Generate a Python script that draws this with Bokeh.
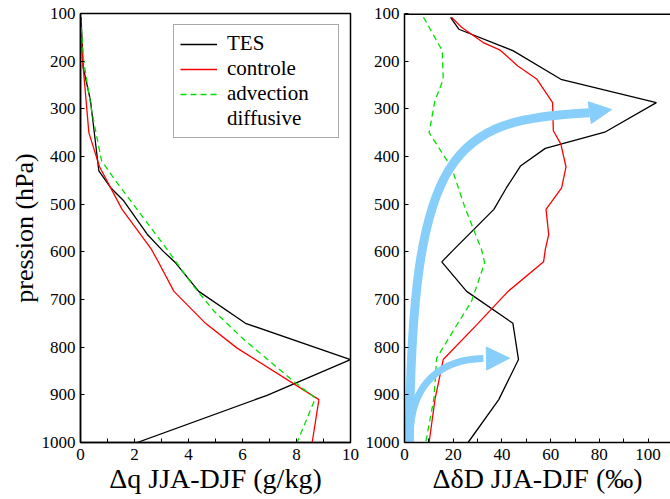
from bokeh.plotting import figure
from bokeh.models import Range1d, FixedTicker, Legend, LegendItem, Span, Arrow, NormalHead, Title
from bokeh.layouts import row
from bokeh.embed import file_html
from bokeh.resources import INLINE

# ---------------- data ----------------
# left panel: specific humidity difference JJA-DJF (g/kg)
p_tes_q = [108, 213, 283, 430, 465, 493, 563, 598, 623, 683, 750, 826, 901, 1000]
tes_q = [0.02, 0.1, 0.37, 0.68, 1.11, 1.6, 2.47, 3.05, 3.52, 4.38, 6.11, 10.0, 6.91, 2.1]

p_ctl_q = [108, 200, 350, 421, 511, 595, 623, 683, 750, 802, 910, 1000]
ctl_q = [0.0, 0.08, 0.31, 0.7, 1.54, 2.63, 2.9, 3.46, 4.63, 5.8, 8.83, 8.58]

p_adv_q = [108, 200, 300, 409, 451, 592, 668, 724, 784, 872, 907, 1000]
adv_q = [0.0, 0.12, 0.4, 0.78, 1.3, 3.17, 4.13, 4.94, 6.05, 7.9, 8.7, 8.02]

# right panel: deltaD difference JJA-DJF (permil)
p_tes_d = [108, 133, 178, 238, 287, 349, 383, 420, 466, 511, 598, 621, 683, 750, 826, 910, 1000]
tes_d = [18.9, 22.3, 44.5, 64.2, 103.4, 82.2, 57.8, 47.6, 41.8, 36.7, 19.7, 15.3, 25.5, 44.5, 46.8, 38.7, 26.1]

p_ctl_d = [108, 129, 161, 177, 210, 238, 287, 346, 374, 422, 466, 511, 564, 595, 621, 683, 750, 826, 910, 1000]
ctl_d = [19.3, 23.4, 32.3, 39.3, 46.5, 54.4, 60.8, 61.1, 64.2, 66.3, 64.5, 58.1, 59.2, 57.8, 57.1, 42.5, 30.2, 15.9, 12.5, 10.1]

p_adv_d = [108, 178, 238, 283, 350, 423, 507, 595, 623, 704, 760, 823, 907, 1000]
adv_d = [7.8, 15.5, 15.9, 12.5, 10.1, 19.3, 24.8, 31.6, 32.9, 27.5, 20.7, 13.2, 12.1, 8.7]

# annotation arrows (bezier control points, data units: permil, hPa)
big_arrow = dict(x0=2.0, y0=1000, cx0=3.0, cy0=380, cx1=20.0, cy1=322, x1=76.0, y1=308, tip_x=85.0, tip_y=301.5)
small_arrow = dict(x0=2.5, y0=965, cx0=4.0, cy0=880, cx1=14.0, cy1=826, x1=32.4, y1=824.0, tip_x=43.1, tip_y=823.0)

pressure_ticks = [100, 200, 300, 400, 500, 600, 700, 800, 900, 1000]
q_ticks = [0, 2, 4, 6, 8, 10]
q_minor = [1, 3, 5, 7, 9]
d_ticks = [0, 20, 40, 60, 80, 100]
d_minor = [10, 30, 50, 70, 90]

labels = ["TES", "controle", "advection", "diffusive"]
xlab_q = "\u0394q JJA-DJF (g/kg)"
xlab_d = "\u0394\u03b4D JJA-DJF (\u2030)"
ylab = "pression (hPa)"

FONT = "serif"
BLUE = "#87CEFA"
GREEN = "#00e000"


def style(p, xticks, xminor):
    p.xaxis.ticker = FixedTicker(ticks=xticks, minor_ticks=xminor)
    p.yaxis.ticker = FixedTicker(ticks=pressure_ticks)
    for ax in (p.xaxis[0], p.yaxis[0]):
        ax.major_label_text_font = FONT
        ax.major_label_text_font_size = "17px"
        ax.major_label_text_color = "black"
        ax.axis_label_text_font = FONT
        ax.axis_label_text_font_style = "normal"
        ax.axis_label_text_color = "black"
        ax.axis_line_color = "black"
        ax.axis_line_width = 1.5
        ax.major_tick_line_color = "black"
        ax.minor_tick_line_color = "black"
        ax.major_tick_in = 4
        ax.major_tick_out = 0
        ax.minor_tick_in = 4
        ax.minor_tick_out = 0
    p.yaxis.minor_tick_line_color = None
    p.xaxis.major_label_standoff = 6
    p.yaxis.major_label_standoff = 5
    p.xaxis.axis_label_text_font_size = "28px"
    p.xaxis.axis_label_standoff = 0
    p.xgrid.visible = False
    p.ygrid.visible = False
    p.background_fill_color = "white"
    p.border_fill_color = "white"


# ---------------- left panel ----------------
p1 = figure(width=360, height=499, output_backend="svg", toolbar_location=None,
            x_range=Range1d(0, 10), y_range=Range1d(1000, 100),
            min_border_left=80, min_border_right=10, min_border_top=13, min_border_bottom=57)
style(p1, q_ticks, q_minor)
p1.xaxis.axis_label = xlab_q
p1.add_layout(Title(text=ylab, align="center", offset=26, standoff=0,
                    text_font=FONT, text_font_size="26px", text_font_style="normal",
                    text_color="black"), "left")
p1.outline_line_color = "black"
p1.outline_line_width = 1.5
p1.outline_line_alpha = 1.0

r_tes = p1.line(tes_q, p_tes_q, line_color="black", line_width=1.3)
r_ctl = p1.line(ctl_q, p_ctl_q, line_color="red", line_width=1.3)
r_adv = p1.line(adv_q, p_adv_q, line_color=GREEN, line_width=1.3, line_dash="6 4")
r_blank = p1.line([], [], line_alpha=0.0)  # second line of the "advection diffusive" label

legend = Legend(items=[LegendItem(label=labels[0], renderers=[r_tes]),
                       LegendItem(label=labels[1], renderers=[r_ctl]),
                       LegendItem(label=labels[2], renderers=[r_adv]),
                       LegendItem(label=labels[3], renderers=[r_blank])],
                location="top_right")
legend.margin = 11
legend.padding = 6
legend.spacing = 0
legend.label_text_font = FONT
legend.label_text_font_size = "21px"
legend.label_text_line_height = 1.0
legend.label_text_color = "black"
legend.label_height = 22
legend.label_width = 105
legend.label_standoff = 10
legend.glyph_width = 37
legend.glyph_height = 22
legend.border_line_color = "#555555"
legend.border_line_width = 1.2
legend.background_fill_alpha = 1.0
p1.add_layout(legend)

# ---------------- right panel ----------------
p2 = figure(width=310, height=499, output_backend="svg", toolbar_location=None,
            x_range=Range1d(0, 109.2), y_range=Range1d(1000, 100),
            min_border_left=44, min_border_right=0, min_border_top=13, min_border_bottom=57)
style(p2, d_ticks, d_minor)
p2.xaxis.axis_label = xlab_d
p2.outline_line_color = None
p2.add_layout(Span(location=pressure_ticks[0], dimension="width", line_color="black", line_width=3))

p2.line(tes_d, p_tes_d, line_color="black", line_width=1.3)
p2.line(ctl_d, p_ctl_d, line_color="red", line_width=1.3)
p2.line(adv_d, p_adv_d, line_color=GREEN, line_width=1.3, line_dash="6 4")

for a, w, hs in ((big_arrow, 9, 22), (small_arrow, 7, 23)):
    p2.bezier(x0=[a["x0"]], y0=[a["y0"]], x1=[a["x1"]], y1=[a["y1"]],
              cx0=[a["cx0"]], cy0=[a["cy0"]], cx1=[a["cx1"]], cy1=[a["cy1"]],
              line_color=BLUE, line_width=w)
    p2.add_layout(Arrow(end=NormalHead(size=hs, fill_color=BLUE, line_color=BLUE, line_width=1),
                        x_start=a["x1"], y_start=a["y1"], x_end=a["tip_x"], y_end=a["tip_y"],
                        line_alpha=0.0))

layout = row(p1, p2)
open("out.html", "w").write(file_html(layout, INLINE))
